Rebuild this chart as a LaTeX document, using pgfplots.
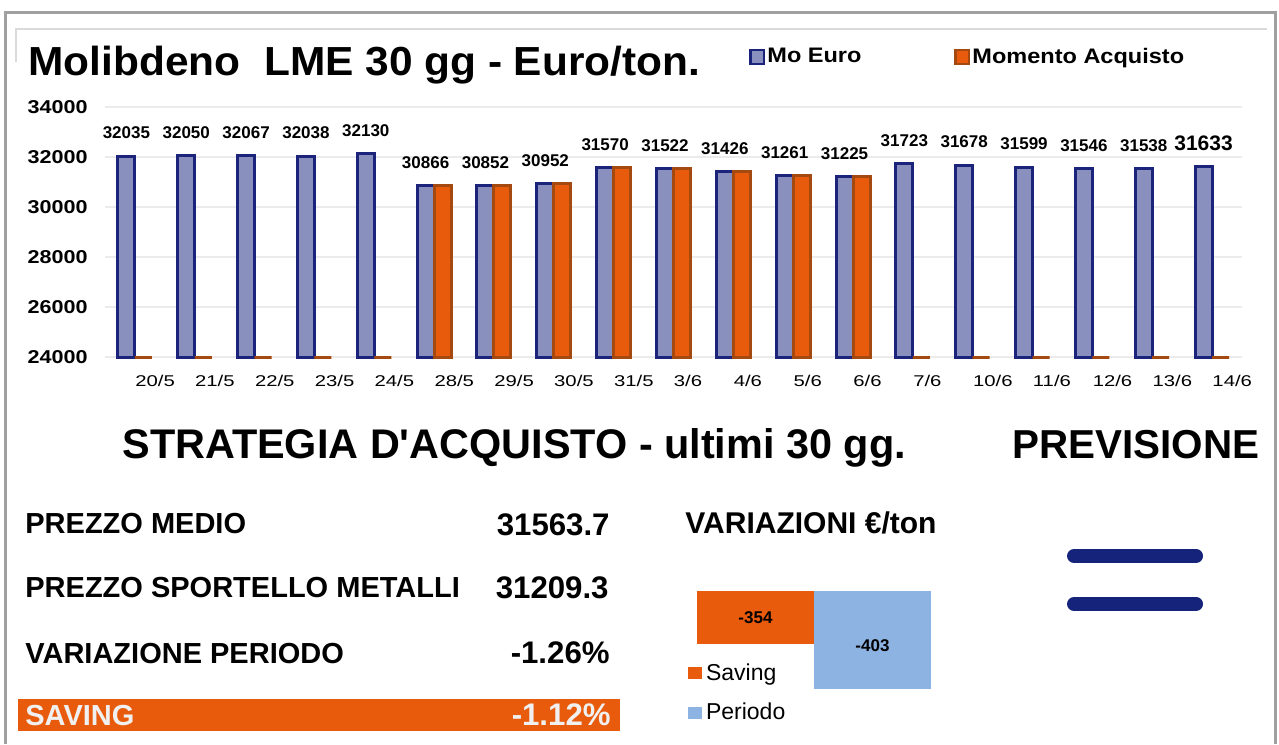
\documentclass[border=0pt]{standalone}
\usepackage{fontspec}
\setmainfont{Liberation Sans}
\newfontfamily\headfont{Liberation Sans}
\usepackage{graphicx}
\usepackage{pgfplots}
\usepackage{pgfplotstable}
\pgfplotsset{compat=1.18}
\definecolor{navy}{HTML}{1B247A}
\definecolor{navyeq}{HTML}{16237A}
\definecolor{mofill}{HTML}{8A90BE}
\definecolor{orfill}{HTML}{E95B0C}
\definecolor{ordraw}{HTML}{A4490F}
\definecolor{perblue}{HTML}{8DB3E2}
\definecolor{gridc}{HTML}{EBEBEB}
\definecolor{framec}{HTML}{A0A0A0}
\definecolor{innerc}{HTML}{DADADA}
\newcommand\xl[1]{\scalebox{1.3}[1]{#1}}
\newcommand\yl[1]{\scalebox{1.16}[1]{#1}}
\newcommand\lgx[1]{\scalebox{1.12}[1]{#1}}
\newcommand\B[1]{{\fontsize{10.5}{11}\selectfont #1}}
\pgfplotstableread{
x mo acq lab
0 32035 0 32035
1 32050 0 32050
2 32067 0 32067
3 32038 0 32038
4 32130 0 32130
5 30866 30866 30866
6 30852 30852 30852
7 30952 30952 30952
8 31570 31570 31570
9 31522 31522 31522
10 31426 31426 31426
11 31261 31261 31261
12 31225 31225 31225
13 31723 0 31723
14 31678 0 31678
15 31599 0 31599
16 31546 0 31546
17 31538 0 31538
18 31633 0 \B{31633}
}\datatab
\begin{document}
\begin{tikzpicture}
\begin{scope}[x=0.5pt,y=-0.5pt]
\useasboundingbox (0,0) rectangle (1279,744);
\fill[white] (0,0) rectangle (1279,744);
\draw[framec, line width=1.5pt] (5,744) -- (5,12) -- (1275,12) -- (1275,744);
\draw[innerc, line width=1pt] (16,62) -- (16,29) -- (1267,29);
\node[anchor=base west, inner sep=0pt, font=\bfseries\fontsize{20.3}{24}\selectfont] at (28,75) {\scalebox{1.045}[1]{Molibdeno\ \ LME 30 gg - Euro/ton.}};
\end{scope}

\begin{axis}[
  at={(52.5pt,-178.5pt)}, anchor=south west,
  width=568.5pt, height=125pt, scale only axis,
  xmin=-0.5, xmax=18.5, ymin=0, ymax=10000,
  enlargelimits=false, clip=false, scaled y ticks=false,
  axis line style={draw=none}, major tick length=0pt,
  ymajorgrids, grid style={gridc, line width=1pt},
  ytick={0,2000,4000,6000,8000,10000},
  yticklabels={\yl{24000},\yl{26000},\yl{28000},\yl{30000},\yl{32000},\yl{34000}},
  yticklabel style={font=\bfseries\fontsize{9.3}{10}\selectfont, anchor=east, inner sep=0pt, xshift=-8.5pt},
  xtick={0,...,18},
  xticklabels={\xl{20/5},\xl{21/5},\xl{22/5},\xl{23/5},\xl{24/5},\xl{28/5},\xl{29/5},\xl{30/5},\xl{31/5},\xl{3/6},\xl{4/6},\xl{5/6},\xl{6/6},\xl{7/6},\xl{10/6},\xl{11/6},\xl{12/6},\xl{13/6},\xl{14/6}},
  xticklabel style={font=\fontsize{7.8}{9}\selectfont, anchor=west, inner sep=0pt, yshift=-12pt},
  ybar=0pt, bar width=8.5pt,
  legend columns=2,
  legend style={at={(0.5664,1.2)}, anchor=west, draw=none, fill=none, inner sep=0pt,
    font=\bfseries\fontsize{10.5}{12}\selectfont,
    /tikz/every odd column/.append style={column sep=-1pt},
    /tikz/every even column/.append style={column sep=44.5pt}},
  every axis plot post/.append style={legend image code/.code={\draw[##1, line width=1.2pt] (0pt,-3.4pt) rectangle (6.8pt,3.4pt);}},
]
\addplot[draw=navy, fill=mofill, line width=1.5pt,
  point meta=explicit symbolic,
  nodes near coords,
  every node near coord/.append style={anchor=center, yshift=11.5pt, text=black, font=\bfseries\fontsize{8.5}{10}\selectfont}]
  table[x=x, y expr=\thisrow{mo}-24000, meta=lab] {\datatab};
\addlegendentry{\lgx{Mo Euro}}
\addplot[draw=ordraw, fill=orfill, line width=1.5pt]
  table[x=x, y expr={max(\thisrow{acq}-24000,0)}] {\datatab};
\addlegendentry{\lgx{Momento Acquisto}}
\end{axis}

\begin{axis}[
  at={(348.5pt,-295.5pt)}, anchor=north west,
  width=117pt, height=75.45pt, scale only axis,
  xmin=-0.5, xmax=1.5, ymin=-460, ymax=-296,
  hide axis, ybar, bar width=58.5pt,
  legend cell align=left,
  legend style={at={(-0.04,0.324)}, anchor=west, draw=none, fill=none, inner sep=0pt,
    font=\fontsize{11.5}{13}\selectfont, row sep=6pt,
    /tikz/every odd column/.append style={column sep=0pt}},
  every axis plot post/.append style={legend image code/.code={\fill[##1] (0pt,-3pt) rectangle (7pt,3pt);}},
]
\addplot[fill=orfill, draw=none, bar shift=0pt, point meta=explicit symbolic,
  nodes near coords,
  every node near coord/.append style={anchor=center, yshift=13.2pt, text=black, font=\bfseries\fontsize{8.5}{10}\selectfont}]
  coordinates {(0,-354) [-354]};
\addlegendentry{Saving}
\addplot[fill=perblue, draw=none, bar shift=0pt, point meta=explicit symbolic,
  nodes near coords,
  every node near coord/.append style={anchor=center, yshift=21.7pt, text=black, font=\bfseries\fontsize{8.5}{10}\selectfont}]
  coordinates {(1,-403) [-403]};
\addlegendentry{Periodo}
\end{axis}

\begin{scope}[x=0.5pt,y=-0.5pt]
\tikzset{lab/.style={inner sep=0pt, font=\bfseries\fontsize{14.5}{16}\selectfont}}
\tikzset{val/.style={inner sep=0pt, anchor=base east, font=\bfseries\fontsize{15.6}{16}\selectfont}}
\node[anchor=base west, inner sep=0pt, font=\headfont\bfseries\fontsize{20.7}{24}\selectfont] at (122,458) {STRATEGIA D'ACQUISTO - ultimi 30 gg.};
\node[anchor=base west, inner sep=0pt, font=\bfseries\fontsize{20.2}{24}\selectfont] at (1012,458) {PREVISIONE};
\node[lab, anchor=base west] at (25,533) {PREZZO MEDIO};
\node[val] at (610,535) {31563.7};
\node[lab, anchor=base west] at (25,597) {PREZZO SPORTELLO METALLI};
\node[val] at (609,598) {31209.3};
\node[lab, anchor=base west] at (25,663) {VARIAZIONE PERIODO};
\node[val] at (610,663) {-1.26\%};
\fill[orfill] (18,699) rectangle (620,731);
\node[lab, anchor=base west, text={rgb,255:red,240;green,240;blue,240}] at (25,725) {SAVING};
\node[val, text={rgb,255:red,240;green,240;blue,240}] at (611,725) {-1.12\%};
\node[lab, anchor=base west, font=\bfseries\fontsize{15}{16}\selectfont] at (685,533) {VARIAZIONI €/ton};
\draw[navyeq, line width=7pt, line cap=round] (1074,556) -- (1196,556);
\draw[navyeq, line width=7pt, line cap=round] (1074,604) -- (1196,604);
\end{scope}
\end{tikzpicture}
\end{document}
